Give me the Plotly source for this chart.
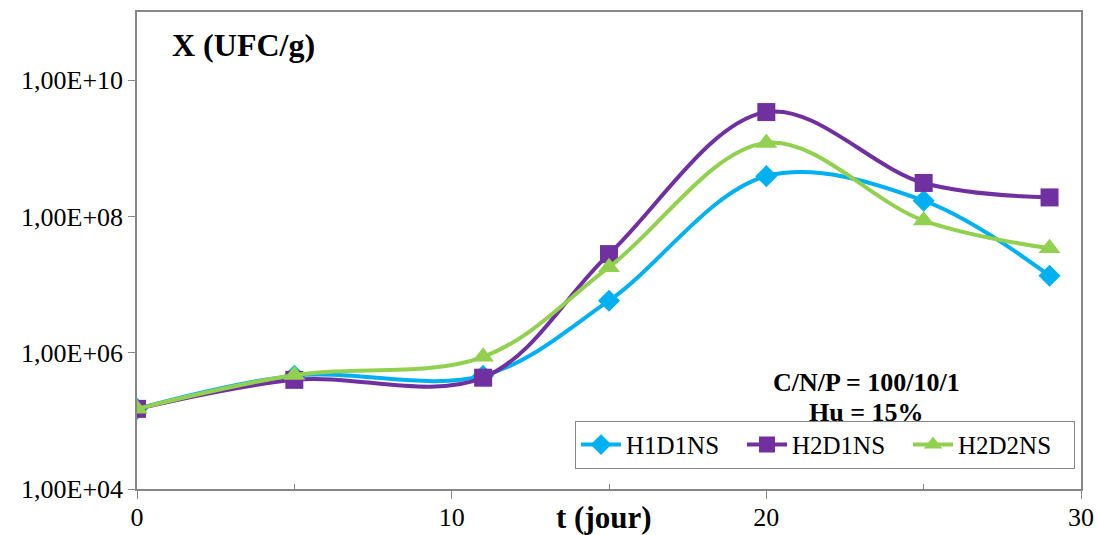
import plotly.graph_objects as go

days = [0, 5, 11, 15, 20, 25, 29]
h1d1ns = [1.5e5, 4.6e5, 4.6e5, 5.8e6, 3.9e8, 1.7e8, 1.35e7]
h2d1ns = [1.5e5, 4.0e5, 4.3e5, 2.8e7, 3.4e9, 3.1e8, 1.9e8]
h2d2ns = [1.5e5, 4.7e5, 8.7e5, 1.8e7, 1.2e9, 8.7e7, 3.4e7]

series_names = ["H1D1NS", "H2D1NS", "H2D2NS"]
colors = ["#00B0F0", "#7030A0", "#92D050"]
symbols = ["diamond", "square", "triangle-up"]
sizes = [17, 18, 19]

y_tickvals = [1e4, 1e6, 1e8, 1e10]
y_ticktext = ["1,00E+04", "1,00E+06", "1,00E+08", "1,00E+10"]
x_tickvals = [0, 10, 20, 30]
x_ticktext = ["0", "10", "20", "30"]
x_minor_tickvals = [5, 15, 25]

fig = go.Figure()
for name, vals, c, s, sz in zip(series_names, [h1d1ns, h2d1ns, h2d2ns], colors, symbols, sizes):
    fig.add_trace(go.Scatter(
        x=days, y=vals, name=name, mode="lines+markers",
        line=dict(color=c, width=4, shape="spline", smoothing=1),
        marker=dict(symbol=s, size=sz, color=c),
    ))

font_family = "Liberation Serif, Times New Roman, serif"
fig.update_layout(
    width=1099, height=535,
    margin=dict(l=137, r=18, t=12, b=46, autoexpand=False),
    paper_bgcolor="white", plot_bgcolor="white",
    font=dict(family=font_family, size=26, color="black"),
    showlegend=True,
    legend=dict(
        orientation="h", x=0.464, y=0.143, xanchor="left", yanchor="top",
        bordercolor="#868686", borderwidth=1, bgcolor="white",
        font=dict(size=25, family=font_family), tracegroupgap=0,
        entrywidth=111, entrywidthmode="pixels", itemwidth=40,
    ),
)
fig.update_xaxes(
    range=[0, 30], tickvals=x_tickvals, ticktext=x_ticktext,
    showgrid=False, zeroline=False, showline=True, linecolor="#868686", linewidth=1.5,
    mirror=True, ticks="outside", ticklen=8, tickcolor="#868686",
    tickfont=dict(size=26), ticklabelstandoff=-4, automargin=False,
    minor=dict(tickvals=x_minor_tickvals, ticks="inside", ticklen=5, tickcolor="#868686", showgrid=False),
)
fig.update_yaxes(
    type="log", range=[4, 11], tickvals=y_tickvals, ticktext=y_ticktext,
    showgrid=False, zeroline=False, showline=True, linecolor="#868686", linewidth=1.5,
    mirror=True, ticks="outside", ticklen=7, tickcolor="#868686",
    tickfont=dict(size=26), automargin=False,
)
fig.add_annotation(text="<b>X (UFC/g)</b>", xref="paper", yref="paper", x=0.035, y=0.931,
                   xanchor="left", yanchor="middle", showarrow=False, font=dict(size=32))
fig.add_annotation(text="<b>t (jour)</b>", xref="paper", yref="paper", x=0.4947, y=-0.06,
                   xanchor="center", yanchor="middle", showarrow=False, font=dict(size=31))
fig.add_annotation(text="<b>C/N/P = 100/10/1</b>", xref="paper", yref="paper", x=0.773, y=0.224,
                   xanchor="center", yanchor="middle", showarrow=False, font=dict(size=26))
fig.add_annotation(text="<b>Hu = 15%</b>", xref="paper", yref="paper", x=0.773, y=0.161,
                   xanchor="center", yanchor="middle", showarrow=False, font=dict(size=26))

fig.write_html("out.html", config={"displayModeBar": False},
               post_script="document.body.style.margin='0px';")
